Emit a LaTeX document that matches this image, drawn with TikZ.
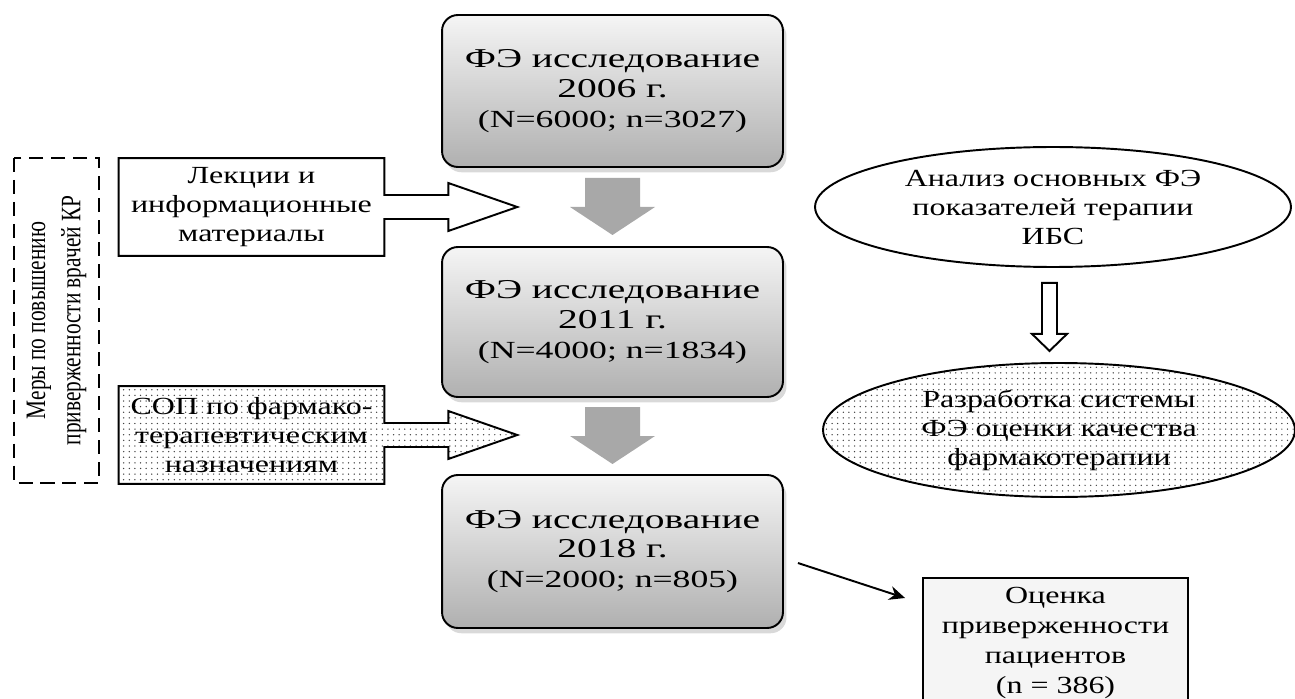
\documentclass[tikz,border=0pt]{standalone}
\usepackage{fontspec}
\setmainfont{Liberation Serif}[FakeStretch=1.3]
\newfontfamily\studyfamily{Liberation Serif}[FakeStretch=1.45]
\newfontfamily\turnfamily{Liberation Serif}[FakeStretch=0.76]
\usetikzlibrary{shapes.geometric,shadows,patterns.meta,arrows.meta,calc,backgrounds}
\newcommand\studyfont{\studyfamily\fontsize{15.5}{17}\selectfont}
\newcommand\countfont{\fontsize{14}{17}\selectfont}
\newcommand\sidefont{\fontsize{14}{16.5}\selectfont}
\newcommand\turnfont{\turnfamily\fontsize{16}{20}\selectfont}

\begin{document}
\begin{tikzpicture}[x=0.02cm,y=-0.02cm,
	study/.style={draw,line width=1.1pt,rounded corners=9pt,top color=gray!8,bottom color=gray!62,
		drop shadow={opacity=0.3,shadow xshift=2pt,shadow yshift=-3pt},
		minimum width=6.82cm,align=center,font=\studyfont},
	side/.style={minimum width=5.3cm,minimum height=1.94cm,align=center,font=\sidefont,inner sep=0},
	callout/.style={draw,line width=1.1pt,fill=white},
	dotted fill/.style={pattern={Dots[distance=3.2pt,radius=0.42pt]},pattern color=black!75},
	dotted callout/.style={callout,dotted fill},
	bigarrow/.style={fill=gray!68},
	oval/.style={ellipse,draw,line width=1.1pt,align=center,font=\sidefont,inner sep=0}]
	\useasboundingbox (0,0) rectangle (1295,699);
	\node[study,minimum height=3.04cm] (s06) at (612.5,91) {ФЭ исследование\\2006 г.\\{\countfont\studyfamily (N=6000; n=3027)}};
	\node[study,minimum height=3cm] (s11) at (612.5,322) {ФЭ исследование\\2011 г.\\{\countfont\studyfamily (N=4000; n=1834)}};
	\node[study,minimum height=3.06cm] (s18) at (612.5,551.5) {ФЭ исследование\\2018 г.\\{\countfont\studyfamily (N=2000; n=805)}};
	\foreach \a/\b in {s06/s11,s11/s18}
		\fill[bigarrow] ($(\a.south)!.5!(\b.north)+(-27.5,-29)$) -- ++(55,0) -- ++(0,29) -- ++(15,0)
			-- ++(-42.5,28) -- ++(-42.5,-28) -- ++(15,0) -- cycle;
	\node[draw,dash pattern=on 8pt off 4.5pt,line width=1.4pt,rotate=90,minimum width=6.5cm,minimum height=1.7cm,
		align=center,font=\turnfont] (mery) at (56.5,320.5) {Меры по повышению\\приверженности врачей КР};
	\node[side] (lec) at (251.5,207) {Лекции и\\информационные\\материалы};
	\node[side] (sop) at (251.5,435) {СОП по фармако-\\терапевтическим\\назначениям};
	\begin{scope}[on background layer]
		\foreach \n/\f in {lec/callout,sop/dotted callout}
			\draw[\f] (\n.north west) -- (\n.north east) -- ($(\n.east)+(0,-12)$) -- ++(64,0) -- ++(0,-12)
				-- ++(69,24) -- ++(-69,24) -- ++(0,-12) -- ($(\n.east)+(0,12)$) -- (\n.south east)
				-- (\n.south west) -- cycle;
	\end{scope}
	\node[oval,minimum width=9.52cm,minimum height=2.4cm] (an) at (1053,207) {Анализ основных ФЭ\\показателей терапии\\ИБС};
	\node[oval,dotted fill,minimum width=9.44cm,minimum height=2.68cm] (dev) at (1059,430) {Разработка системы\\ФЭ оценки качества\\фармакотерапии};
	\draw[line width=1.1pt,fill=white] ($(an.south)+(-11,15)$) -- ++(15,0) -- ++(0,51) -- ++(10,0)
		-- ++(-17.5,17) -- ++(-17.5,-17) -- ++(10,0) -- cycle;
	\node[draw,line width=1.1pt,fill=gray!8,anchor=north,minimum width=5.3cm,minimum height=2.6cm,
		align=center,font=\fontsize{14}{17}\selectfont] (pat) at (1055.5,577) {Оценка\\приверженности\\пациентов\\(n = 386)};
	\draw[line width=1.1pt,-{Stealth[length=9pt,width=8pt]}] ($(s18.east)+(14,11.5)$) -- ($(pat.north west)+(-17,21)$);
\end{tikzpicture}
\end{document}
